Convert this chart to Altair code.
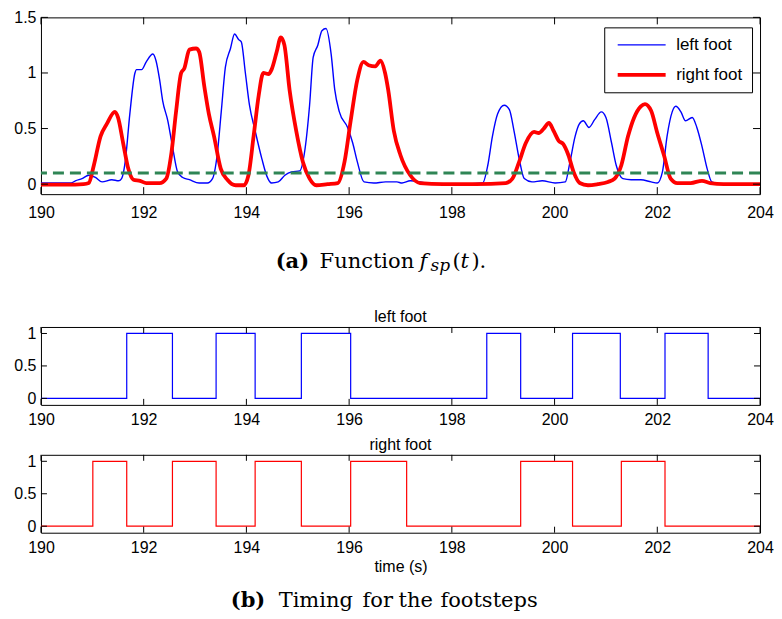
import altair as alt
import pandas as pd

# ---------------- data ----------------
X_TICKS = [190, 192, 194, 196, 198, 200, 202, 204]
Y_TICKS_TOP = [0, 0.5, 1, 1.5]
Y_TICKS_STEP = [0, 0.5, 1]
FEET = ["left foot", "right foot"]
COLORS = ["#0000ff", "#ff0000"]
THRESHOLD = [0.1]

left_curve = [
    (190.0, 0.01), (190.3, 0.01), (190.59, 0.01), (190.67, 0.03), (190.8, 0.05),
    (190.93, 0.08), (191.06, 0.06), (191.19, 0.02), (191.38, 0.04), (191.51, 0.03),
    (191.57, 0.05), (191.64, 0.2), (191.73, 0.63), (191.83, 1.0), (191.86, 1.03),
    (191.96, 1.03), (192.05, 1.1), (192.18, 1.17), (192.24, 1.11), (192.31, 0.94),
    (192.37, 0.75), (192.47, 0.57), (192.56, 0.34), (192.66, 0.11), (192.76, 0.06),
    (192.89, 0.04), (193.08, 0.01), (193.24, 0.01), (193.34, 0.05), (193.43, 0.26),
    (193.51, 0.65), (193.59, 1.05), (193.69, 1.22), (193.77, 1.35), (193.85, 1.30),
    (193.90, 1.28), (193.98, 1.0), (194.06, 0.71), (194.17, 0.48), (194.30, 0.23),
    (194.40, 0.07), (194.49, 0.01), (194.62, 0.02), (194.75, 0.08), (194.88, 0.11),
    (195.04, 0.12), (195.13, 0.28), (195.23, 0.71), (195.30, 1.14), (195.39, 1.25),
    (195.47, 1.38), (195.55, 1.40), (195.65, 1.17), (195.72, 0.85), (195.81, 0.65),
    (195.97, 0.51), (196.07, 0.37), (196.16, 0.2), (196.29, 0.02), (196.48, 0.01),
    (196.71, 0.02), (196.93, 0.02), (197.03, 0.01), (197.19, 0.03), (197.51, 0.01),
    (197.83, 0.0), (198.2, 0.0), (198.60, 0.01), (198.70, 0.17), (198.79, 0.43),
    (198.89, 0.63), (199.02, 0.71), (199.12, 0.67), (199.21, 0.48), (199.31, 0.23),
    (199.41, 0.05), (199.56, 0.02), (199.76, 0.03), (200.01, 0.01), (200.21, 0.02),
    (200.30, 0.2), (200.40, 0.43), (200.48, 0.54), (200.56, 0.57), (200.67, 0.51),
    (200.78, 0.58), (200.91, 0.65), (201.0, 0.6), (201.11, 0.37), (201.20, 0.17),
    (201.33, 0.05), (201.49, 0.04), (201.68, 0.04), (201.88, 0.02), (202.0, 0.01),
    (202.10, 0.11), (202.19, 0.43), (202.29, 0.65), (202.36, 0.70), (202.46, 0.65),
    (202.55, 0.57), (202.68, 0.6), (202.77, 0.51), (202.87, 0.34), (202.97, 0.14),
    (203.06, 0.02), (203.22, 0.0), (203.6, 0.0), (204.0, 0.0),
]

right_curve = [
    (190.0, -0.005), (190.5, -0.005), (190.83, 0.0), (190.93, 0.01), (191.03, 0.17),
    (191.16, 0.43), (191.28, 0.54), (191.44, 0.65), (191.5, 0.6), (191.6, 0.37),
    (191.70, 0.14), (191.80, 0.04), (191.93, 0.03), (192.05, 0.01), (192.31, 0.01),
    (192.44, 0.05), (192.54, 0.28), (192.63, 0.65), (192.73, 1.0), (192.79, 1.04),
    (192.89, 1.21), (193.02, 1.22), (193.08, 1.19), (193.18, 0.88), (193.27, 0.63),
    (193.37, 0.43), (193.50, 0.14), (193.63, 0.04), (193.79, -0.01), (193.95, -0.01),
    (194.04, 0.08), (194.14, 0.43), (194.24, 0.80), (194.33, 1.0), (194.43, 0.99),
    (194.49, 1.03), (194.59, 1.19), (194.67, 1.32), (194.74, 1.25), (194.84, 0.85),
    (194.97, 0.48), (195.10, 0.2), (195.23, 0.05), (195.36, -0.01), (195.58, 0.0),
    (195.78, 0.01), (195.91, 0.2), (196.03, 0.57), (196.16, 0.94), (196.28, 1.10),
    (196.38, 1.07), (196.51, 1.06), (196.61, 1.11), (196.70, 1.0), (196.76, 0.85),
    (196.87, 0.48), (197.0, 0.26), (197.19, 0.08), (197.38, 0.01), (197.83, 0.0),
    (198.47, 0.0), (199.05, 0.01), (199.18, 0.05), (199.31, 0.2), (199.44, 0.37),
    (199.60, 0.47), (199.69, 0.46), (199.79, 0.5), (199.89, 0.55), (199.98, 0.48),
    (200.08, 0.39), (200.17, 0.36), (200.27, 0.26), (200.37, 0.11), (200.49, 0.01),
    (200.65, -0.01), (200.84, 0.0), (201.04, 0.02), (201.17, 0.05), (201.30, 0.17),
    (201.43, 0.43), (201.55, 0.6), (201.68, 0.70), (201.76, 0.72), (201.88, 0.66),
    (202.0, 0.46), (202.13, 0.26), (202.26, 0.05), (202.39, 0.01), (202.65, 0.01),
    (202.87, 0.03), (203.03, 0.01), (203.29, 0.0), (204.0, 0.0),
]

left_on = [191.67, 193.41, 195.07, 198.68, 200.35, 202.15]
left_off = [192.56, 194.17, 196.03, 199.34, 201.28, 202.99]
right_on = [191.01, 192.56, 194.17, 196.03, 199.34, 201.30]
right_off = [191.67, 193.41, 195.07, 197.12, 200.35, 202.15]

# ---------------- tables ----------------
rows = [{"t": t, "f": f, "foot": FEET[0]} for t, f in left_curve]
rows += [{"t": t, "f": f, "foot": FEET[1]} for t, f in right_curve]
df_f = pd.DataFrame(rows)


def steps(ons, offs):
    pts = [(X_TICKS[0], 0)]
    for a, b in zip(ons, offs):
        pts += [(a, 1), (b, 0)]
    pts.append((X_TICKS[-1], 0))
    return pd.DataFrame(pts, columns=["t", "s"])


df_left = steps(left_on, left_off)
df_right = steps(right_on, right_off)

# ---------------- styling ----------------
FONT = "Liberation Sans"
SERIF = "DejaVu Serif"
W = 720
H1 = 177
H2 = 78

xs = alt.Scale(domain=[190, 204], nice=False, zero=False)
ys_top = alt.Scale(domain=[-0.09, 1.5], nice=False, zero=False)
ys_step = alt.Scale(domain=[-0.1, 1.1], nice=False, zero=False)

yax_top = alt.Axis(values=Y_TICKS_TOP, format="~g", title=None, labelPadding=5, labelFlush=False)
yax_step = alt.Axis(values=Y_TICKS_STEP, format="~g", title=None, labelPadding=5, labelFlush=False)


def xax(pad, title=None):
    if title is None:
        return alt.Axis(values=X_TICKS, format="d", labelPadding=pad, title=None, labelFlush=False)
    return alt.Axis(values=X_TICKS, format="d", labelPadding=pad, title=title,
                    titlePadding=3, labelFlush=False)


def tick_layers(h, ln, yvals, ysc, xa, ya):
    xt = pd.DataFrame({"v": X_TICKS})
    yt = pd.DataFrame({"v": yvals})
    bx = alt.Chart(xt).mark_rule(color="black", strokeWidth=1)
    by = alt.Chart(yt).mark_rule(color="black", strokeWidth=1)
    xe = alt.X("v:Q", scale=xs, axis=xa)
    ye = alt.Y("v:Q", scale=ysc, axis=ya)
    return [
        bx.encode(x=xe, y=alt.value(0), y2=alt.value(ln)),
        bx.encode(x=xe, y=alt.value(h), y2=alt.value(h - ln)),
        by.encode(y=ye, x=alt.value(0), x2=alt.value(ln)),
        by.encode(y=ye, x=alt.value(W), x2=alt.value(W - ln)),
    ]


def txt(s, x, y, size=21, weight="normal", style="normal", opacity=1, baseline="alphabetic"):
    return alt.Chart(alt.Data(values=[{}])).mark_text(
        text=s, align="left", baseline=baseline, fontSize=size, fontWeight=weight,
        fontStyle=style, font=SERIF, color="black", opacity=opacity
    ).encode(x=alt.value(x), y=alt.value(y))


leg = alt.Legend(
    title=None, orient="none", legendX=W - 156, legendY=10,
    symbolType="M-0.667,0H7.333", symbolSize=144, symbolOffset=0,
    labelOffset=46, labelFontSize=17, labelFont=FONT, labelColor="black",
    padding=9, rowPadding=12, strokeColor="black", fillColor="white",
    cornerRadius=0, symbolFillColor="transparent",
)

xa1 = xax(10)
lines = alt.Chart(df_f).mark_line(interpolate="monotone").encode(
    x=alt.X("t:Q", scale=xs, axis=xa1),
    y=alt.Y("f:Q", scale=ys_top, axis=yax_top),
    color=alt.Color("foot:N", scale=alt.Scale(domain=FEET, range=COLORS), legend=leg),
    strokeWidth=alt.StrokeWidth("foot:N", scale=alt.Scale(domain=FEET, range=[1.4, 3.8]), legend=leg),
)

thr = alt.Chart(pd.DataFrame({"thr": THRESHOLD})).mark_rule(
    strokeDash=[11, 6], strokeWidth=3, color="#2f8555"
).encode(y=alt.Y("thr:Q", scale=ys_top, axis=yax_top))

cap_a = [
    txt("(a)", 235, 251, weight="bold"),
    txt("Function", 279, 251),
    txt("f", 379, 251, style="italic"),
    txt("sp", 390, 254, size=17, style="italic"),
    txt("(", 412, 251),
    txt("t", 420, 251, style="italic"),
    txt(").", 431, 251),
    txt(".", 0, 283, size=10, opacity=0, baseline="bottom"),
]

top = alt.layer(
    lines, thr, *tick_layers(H1, 7, Y_TICKS_TOP, ys_top, xa1, yax_top), *cap_a
).properties(width=W, height=H1)

xa2 = xax(7)
left_steps = alt.Chart(df_left).mark_line(interpolate="step-after", color=COLORS[0], strokeWidth=1.2).encode(
    x=alt.X("t:Q", scale=xs, axis=xa2),
    y=alt.Y("s:Q", scale=ys_step, axis=yax_step),
)
mid = alt.layer(
    left_steps, *tick_layers(H2, 6, Y_TICKS_STEP, ys_step, xa2, yax_step)
).properties(
    width=W, height=H2,
    title=alt.TitleParams("left foot", fontSize=16, font=FONT, fontWeight="normal", offset=0, anchor="middle", color="black"),
)

xa3 = xax(7, "time (s)")
right_steps = alt.Chart(df_right).mark_line(interpolate="step-after", color=COLORS[1], strokeWidth=1.2).encode(
    x=alt.X("t:Q", scale=xs, axis=xa3),
    y=alt.Y("s:Q", scale=ys_step, axis=yax_step),
)
cap_b = [
    txt("(b)", 190, 152, weight="bold"),
    txt("Timing", 238, 152),
    txt("for", 322, 152),
    txt("the", 358, 152),
    txt("footsteps", 400, 152),
]
bot = alt.layer(
    right_steps, *tick_layers(H2, 6, Y_TICKS_STEP, ys_step, xa3, yax_step), *cap_b
).properties(
    width=W, height=H2,
    title=alt.TitleParams("right foot", fontSize=16, font=FONT, fontWeight="normal", offset=0, anchor="middle", color="black"),
)

chart = alt.vconcat(top, mid, bot, spacing=8).properties(
    padding={"left": 5, "top": 0, "right": 0, "bottom": 0}
).configure_view(stroke="black", strokeWidth=1).configure_axis(
    labelFont=FONT, labelFontSize=16, labelColor="black",
    titleFont=FONT, titleFontSize=16, titleFontWeight="normal", titleColor="black",
    ticks=False, domain=False, grid=False, labelFlush=False,
)

chart.save("out.html", embed_options={"renderer": "svg", "actions": False})
